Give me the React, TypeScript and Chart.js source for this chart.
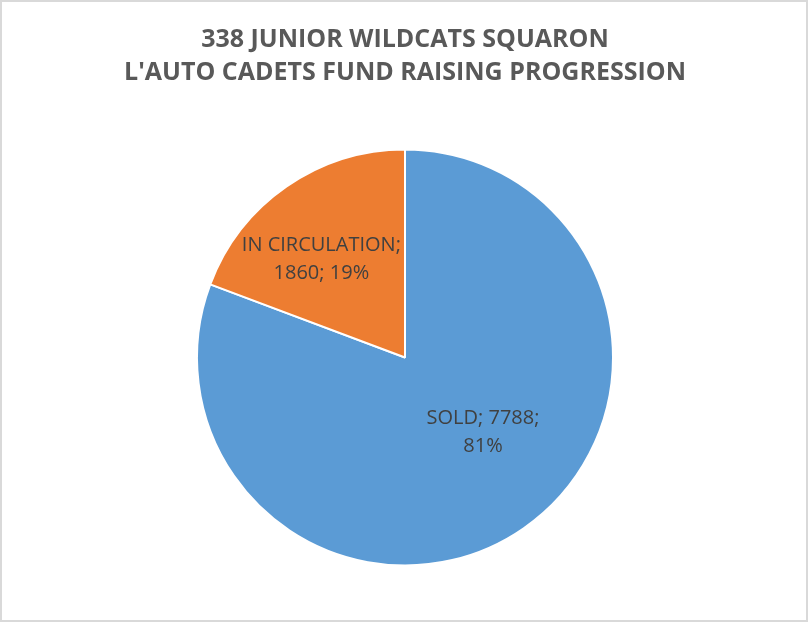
import React, { useEffect, useRef } from "react";
import { Chart, registerables } from "chart.js";

Chart.register(...registerables);

const categories: string[] = ["SOLD", "IN CIRCULATION"];
const values: number[] = [7788, 1860];
const percentLabels: string[] = ["81%", "19%"];
const titleLines: string[] = ["338 JUNIOR WILDCATS SQUARON", "L'AUTO CADETS FUND RAISING PROGRESSION"];
const colors: string[] = ["#5B9BD5", "#ED7D31"];

export default function App() {
  const ref = useRef<HTMLCanvasElement | null>(null);

  useEffect(() => {
    document.body.style.margin = "0";
    const canvas = ref.current;
    if (!canvas) return;

    const labelPlugin = {
      id: "excelLabels",
      afterDraw(chart: any) {
        const ctx = chart.ctx;
        const meta = chart.getDatasetMeta(0);
        // label placement: [fraction of radius, angle offset in radians]
        const place = [
          [0.52, -0.2],
          [0.62, -0.1],
        ];
        ctx.save();
        ctx.fillStyle = "#404040";
        ctx.font = "20px 'Open Sans'";
        ctx.textAlign = "center";
        ctx.textBaseline = "middle";
        meta.data.forEach((arc: any, i: number) => {
          const p = arc.getProps(["x", "y", "startAngle", "endAngle", "outerRadius"], true);
          const mid = (p.startAngle + p.endAngle) / 2 + place[i][1];
          const r = p.outerRadius * place[i][0];
          const cx = p.x + Math.cos(mid) * r;
          const cy = p.y + Math.sin(mid) * r;
          const lines =
            i === 0
              ? [`${categories[i]}; ${values[i]};`, percentLabels[i]]
              : [`${categories[i]};`, `${values[i]}; ${percentLabels[i]}`];
          const lh = 28;
          lines.forEach((t, k) => {
            ctx.fillText(t, cx, cy + (k - (lines.length - 1) / 2) * lh);
          });
        });
        ctx.restore();
      },
    };

    const framePlugin = {
      id: "frameTitle",
      beforeDraw(chart: any) {
        const ctx = chart.ctx;
        ctx.save();
        ctx.fillStyle = "#ffffff";
        ctx.fillRect(0, 0, chart.width, chart.height);
        ctx.restore();
      },
      afterDraw(chart: any) {
        const ctx = chart.ctx;
        ctx.save();
        ctx.strokeStyle = "#d9d9d9";
        ctx.lineWidth = 2;
        ctx.strokeRect(1, 1, chart.width - 2, chart.height - 2);
        ctx.fillStyle = "#595959";
        ctx.font = "bold 25px 'Open Sans'";
        ctx.textAlign = "center";
        ctx.textBaseline = "middle";
        titleLines.forEach((t, k) => {
          ctx.fillText(t, 405, 40 + k * 33);
        });
        ctx.restore();
      },
    };

    const chart = new Chart(canvas, {
      type: "pie",
      data: {
        labels: categories,
        datasets: [
          {
            data: values,
            backgroundColor: colors,
            borderColor: "#ffffff",
            borderWidth: 2,
          },
        ],
      },
      options: {
        animation: false,
        responsive: false,
        maintainAspectRatio: false,
        layout: { padding: { top: 148, bottom: 55, left: 196, right: 194 } },
        plugins: {
          legend: { display: false },
          title: { display: false },
          tooltip: { enabled: false },
        },
      },
      plugins: [framePlugin, labelPlugin],
    });
    return () => chart.destroy();
  }, []);

  return <canvas ref={ref} width={808} height={622} style={{ display: "block" }} />;
}
